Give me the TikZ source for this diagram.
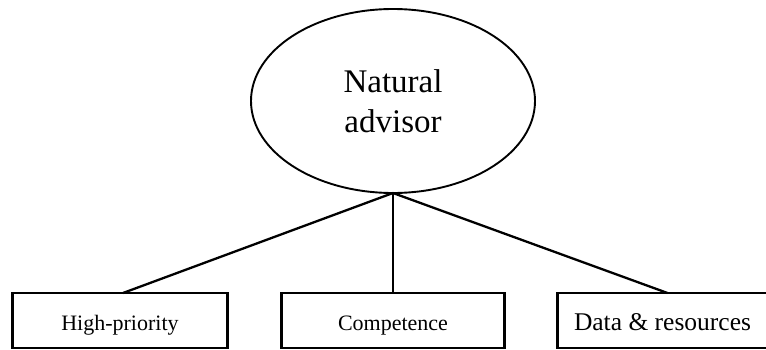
\documentclass[tikz,border=0pt]{standalone}
\usepackage{fontspec}
\setmainfont{Liberation Serif}
\usetikzlibrary{shapes.geometric,positioning}
\tikzset{
	raiz/.style={ellipse, draw, line width=1.9pt, minimum width=284pt,
		minimum height=184pt, inner sep=0pt, outer sep=0pt, align=center,
		font=\fontsize{33}{40}\selectfont},
	hoja/.style={rectangle, draw, line width=2.6pt, minimum height=55pt,
		inner sep=0pt, outer sep=0pt, text height=21pt, text depth=1pt,
		font=\fontsize{22}{26}\selectfont},
	rama/.style={line width=2.3pt}
}

\begin{document}
\begin{tikzpicture}[x=1pt, y=1pt, node distance=54pt]
			\useasboundingbox (0,0) rectangle (766,349);
			\node[raiz] (adv) at (393,248) {Natural\\advisor};
			
			\node[hoja, minimum width=223pt, below=100pt of adv] (comp) {Competence};
			\node[hoja, minimum width=215pt, left=of comp] (prio) {High-priority};
			% right box runs past the page edge
			\node[hoja, minimum width=216pt, right=53pt of comp,
				font=\fontsize{25.5}{30}\selectfont] (data) {\hspace*{-6pt}Data \& resources};
			
			\draw[rama] (adv.south) -- ([xshift=3pt]prio.north);
			\draw[rama] (adv.south) -- (comp.north);
			\draw[rama] (adv.south) -- ([xshift=2pt]data.north);
		\end{tikzpicture}
\end{document}
